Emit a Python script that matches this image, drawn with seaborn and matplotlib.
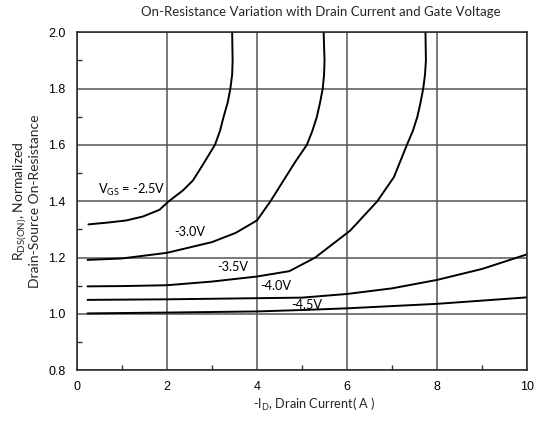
import numpy as np
import pandas as pd
import matplotlib
matplotlib.use("Agg")
import matplotlib.pyplot as plt
from matplotlib.ticker import MultipleLocator
import seaborn as sns

# ---- data ----
x_m25 = [0.26, 0.72, 1.1, 1.47, 1.84, 2.02, 2.36, 2.58, 2.8, 3.07, 3.18, 3.26, 3.35, 3.41, 3.45, 3.46, 3.45]
y_m25 = [1.318, 1.325, 1.332, 1.346, 1.370, 1.397, 1.439, 1.474, 1.53, 1.601, 1.65, 1.70, 1.75, 1.80, 1.85, 1.90, 2.0]

x_m30 = [0.24, 1.0, 2.0, 3.0, 3.53, 4.0, 4.3, 4.59, 4.85, 5.11, 5.23, 5.33, 5.40, 5.46, 5.49, 5.50, 5.48]
y_m30 = [1.192, 1.197, 1.217, 1.255, 1.288, 1.332, 1.40, 1.474, 1.54, 1.601, 1.65, 1.70, 1.75, 1.80, 1.85, 1.90, 2.0]

x_m35 = [0.24, 1.0, 2.0, 3.0, 4.0, 4.72, 5.29, 6.07, 6.67, 7.04, 7.33, 7.46, 7.56, 7.63, 7.69, 7.73, 7.75, 7.74]
y_m35 = [1.098, 1.099, 1.102, 1.115, 1.133, 1.152, 1.20, 1.296, 1.40, 1.486, 1.601, 1.65, 1.70, 1.75, 1.80, 1.85, 1.90, 2.0]

x_m40 = [0.24, 2.0, 4.0, 5.0, 6.0, 7.0, 8.0, 9.0, 10.0]
y_m40 = [1.050, 1.052, 1.056, 1.058, 1.071, 1.091, 1.121, 1.160, 1.212]

x_m45 = [0.24, 2.0, 4.0, 5.0, 6.0, 8.0, 10.0]
y_m45 = [1.002, 1.005, 1.009, 1.014, 1.020, 1.036, 1.059]

series = [
    ("-2.5V", x_m25, y_m25),
    ("-3.0V", x_m30, y_m30),
    ("-3.5V", x_m35, y_m35),
    ("-4.0V", x_m40, y_m40),
    ("-4.5V", x_m45, y_m45),
]
label_text = [r"V$_{\rm GS}$ = -2.5V", "-3.0V", "-3.5V", "-4.0V", "-4.5V"]
label_x = [0.48, 2.17, 3.13, 4.07, 4.76]
label_y = [1.439, 1.29, 1.166, 1.098, 1.033]

x_ticks = [0, 2, 4, 6, 8, 10]
y_ticks = [0.8, 1.0, 1.2, 1.4, 1.6, 1.8, 2.0]

title = "On-Resistance Variation with Drain Current and Gate Voltage"
xlabel = r"-I$_{\rm D}$, Drain Current( A )"
ylabel = "R$_{\\rm DS(ON)}$, Normalized\nDrain-Source On-Resistance"

# ---- style ----
sns.set_style("white")
plt.rcParams["font.family"] = ["Lato", "DejaVu Sans"]
plt.rcParams["mathtext.fontset"] = "custom"
plt.rcParams["mathtext.rm"] = "Lato"
plt.rcParams["mathtext.it"] = "Lato"

rows = []
for name, xs, ys in series:
    for i, (xv, yv) in enumerate(zip(xs, ys)):
        rows.append({"VGS": name, "order": i, "ID": xv, "R": yv})
df = pd.DataFrame(rows)

fig = plt.figure(figsize=(5.4, 4.23), dpi=100)
ax = fig.add_axes([76.7 / 540, 1 - 370.3 / 423, (527.3 - 76.7) / 540, (370.3 - 32.3) / 423])

for name, _, _ in series:
    sub = df[df["VGS"] == name]
    sns.lineplot(data=sub, x="ID", y="R", sort=False, estimator=None,
                 color="black", linewidth=1.4, ax=ax, legend=False)

ax.set_xlim(0, 10)
ax.set_ylim(0.8, 2.0)
ax.set_xticks(x_ticks)
ax.set_yticks(y_ticks)
ax.set_xticklabels([str(t) for t in x_ticks])
ax.set_yticklabels([f"{t:.1f}" for t in y_ticks])
ax.xaxis.set_minor_locator(MultipleLocator(1))
ax.yaxis.set_minor_locator(MultipleLocator(0.1))
ax.grid(True, which="major", color="#555555", linewidth=1.1)
ax.set_axisbelow(True)
ax.tick_params(which="major", direction="in", length=0, labelsize=9, pad=8, colors="black")
ax.tick_params(which="minor", direction="in", length=3.5, width=1, color="#333333",
               top=False, right=False, bottom=True, left=True)
for lab in ax.get_xticklabels() + ax.get_yticklabels():
    lab.set_fontfamily(["Liberation Sans", "DejaVu Sans"])
for s in ax.spines.values():
    s.set_color("#222222")
    s.set_linewidth(1.1)

for t, xv, yv in zip(label_text, label_x, label_y):
    ax.text(xv, yv, t, fontsize=9.2, ha="left", va="center", color="black")

ax.set_xlabel(xlabel, fontsize=9.2, labelpad=4)
ax.xaxis.set_label_coords((314 - 76.7) / (527.3 - 76.7), -0.075)
ax.set_ylabel(ylabel, fontsize=10, labelpad=5, linespacing=1.0)
fig.text(321 / 540, 1 - 12 / 423, title, fontsize=9.5, ha="center", va="center")

fig.savefig("out.png", dpi=100)
